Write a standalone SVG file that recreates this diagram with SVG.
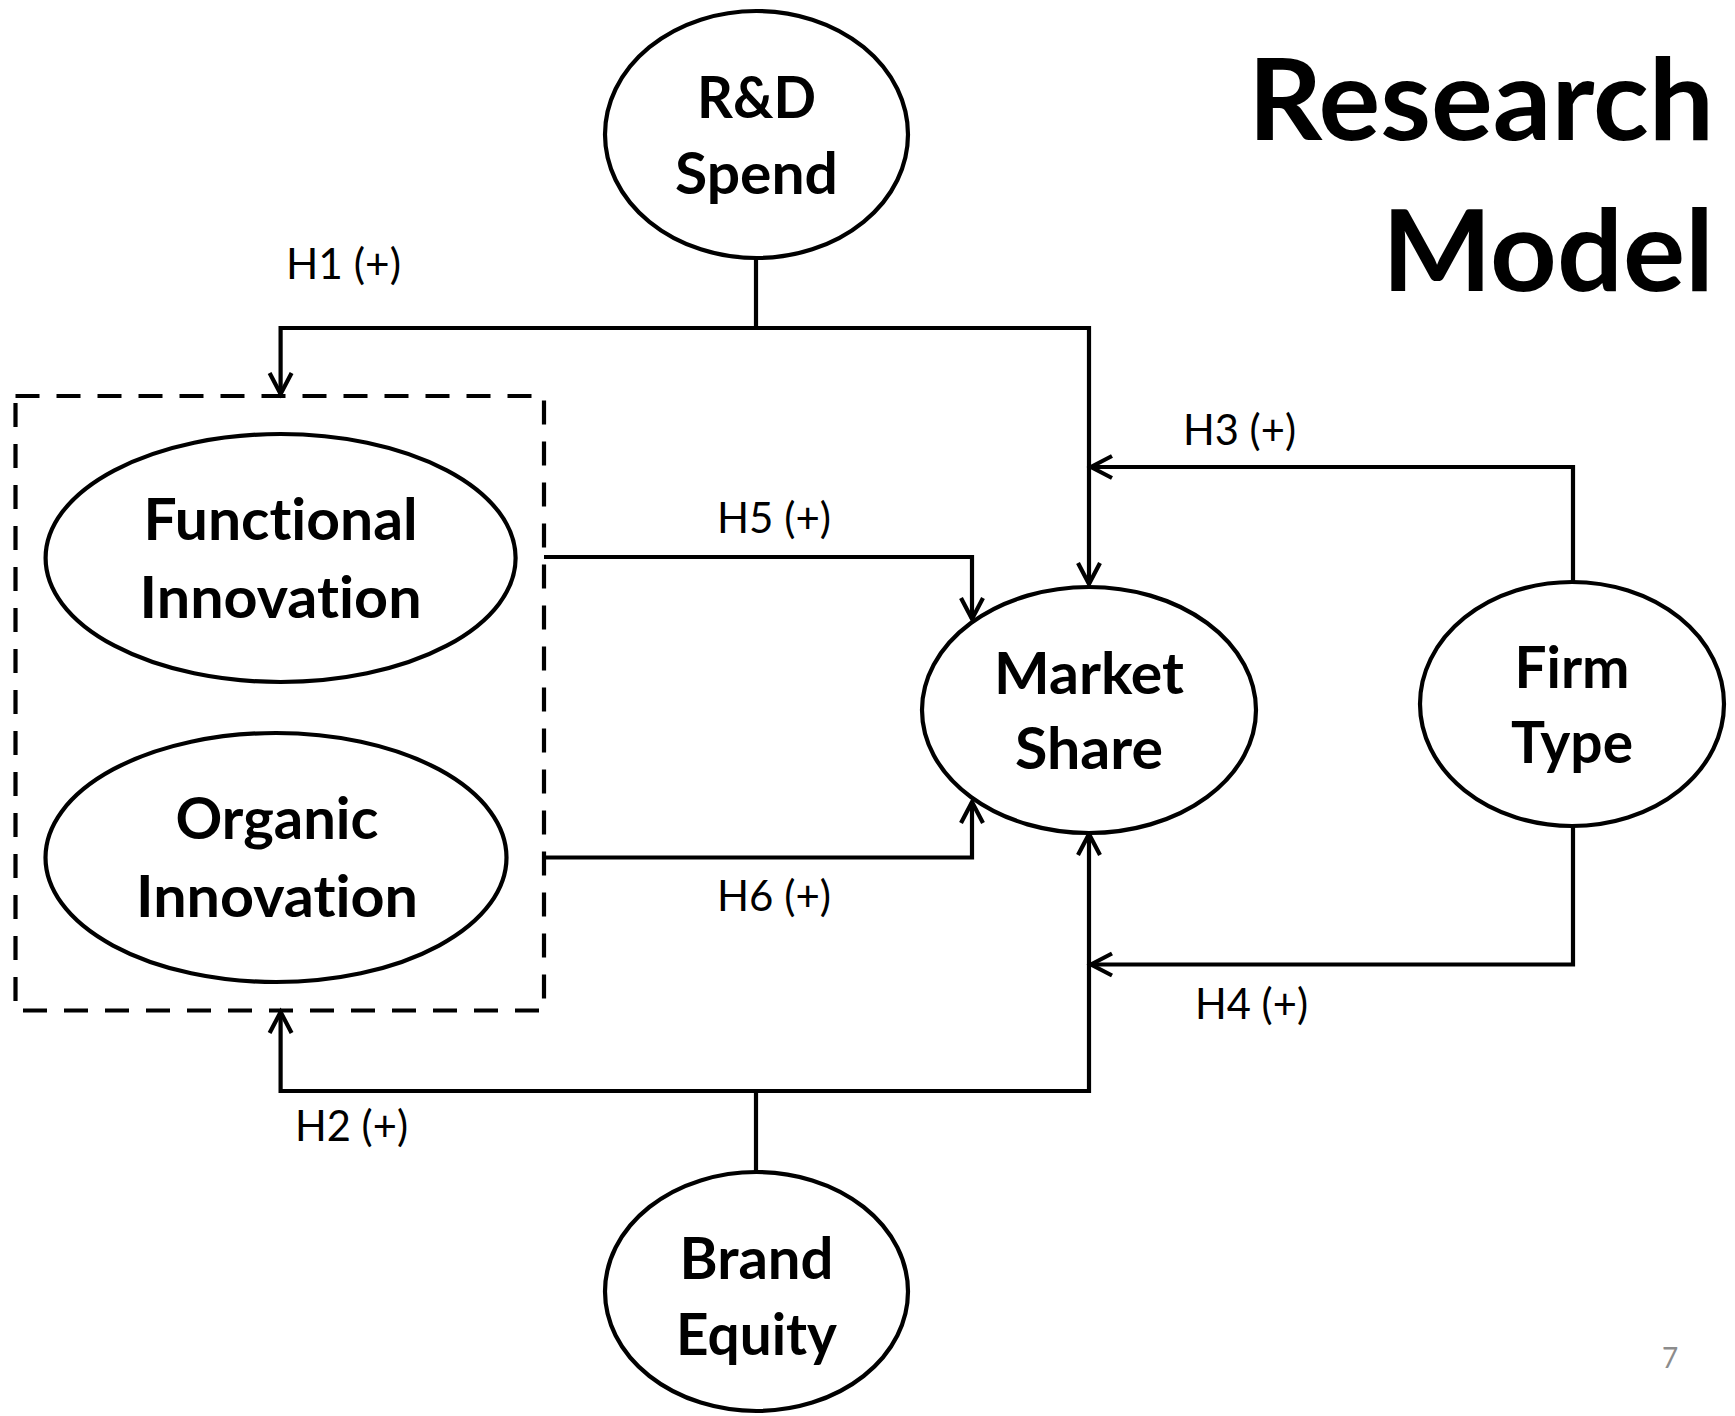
<svg xmlns="http://www.w3.org/2000/svg" width="1735" height="1416" viewBox="0 0 1735 1416">
<style>
text{font-variant-ligatures:none}
.node{fill:#fff;stroke:#000;stroke-width:4.2}
.lbl{font-family:Lato,"Liberation Sans",sans-serif;font-weight:bold;font-size:57px;fill:#000;text-anchor:middle}
.hyp{font-family:Lato,"Liberation Sans",sans-serif;font-size:42px;fill:#000}
.title{font-family:Lato,"Liberation Sans",sans-serif;font-weight:bold;font-size:113px;fill:#000;text-anchor:end}
.conn{fill:none;stroke:#000;stroke-width:4.2;stroke-linejoin:miter}
.dash{fill:none;stroke:#000;stroke-width:4.2;stroke-dasharray:24 17}
</style>
<defs>
<marker id="arr" markerUnits="userSpaceOnUse" markerWidth="40" markerHeight="40" refX="0" refY="0" orient="auto" overflow="visible">
<path d="M-21,-11 L0,0 L-21,11" fill="none" stroke="#000" stroke-width="4.2"/>
</marker>
</defs>
<rect width="1735" height="1416" fill="#fff"/>
<g id="title">
<text class="title" x="1714" y="140" textLength="466" lengthAdjust="spacingAndGlyphs">Research</text>
<text class="title" x="1714" y="291" textLength="332" lengthAdjust="spacingAndGlyphs">Model</text>
</g>
<g id="connectors">
<path class="conn" d="M756,258 V328"/>
<path class="conn" d="M756,328 H280.6 V394" marker-end="url(#arr)"/>
<path class="conn" d="M756,328 H1089 V584" marker-end="url(#arr)"/>
<path class="conn" d="M1573,582 V467 H1091" marker-end="url(#arr)"/>
<path class="conn" d="M1573,826 V964.5 H1091" marker-end="url(#arr)"/>
<path class="conn" d="M544,557 H972 V619" marker-end="url(#arr)"/>
<path class="conn" d="M544,857.5 H972 V802" marker-end="url(#arr)"/>
<path class="conn" d="M756,1172 V1091"/>
<path class="conn" d="M756,1091 H280.6 V1012" marker-end="url(#arr)"/>
<path class="conn" d="M756,1091 H1089 V834" marker-end="url(#arr)"/>
<text class="hyp" x="286" y="279" textLength="115" lengthAdjust="spacingAndGlyphs">H1 (+)</text>
<text class="hyp" x="295" y="1141" textLength="113" lengthAdjust="spacingAndGlyphs">H2 (+)</text>
<text class="hyp" x="1183" y="445" textLength="113" lengthAdjust="spacingAndGlyphs">H3 (+)</text>
<text class="hyp" x="1195" y="1019" textLength="113" lengthAdjust="spacingAndGlyphs">H4 (+)</text>
<text class="hyp" x="717" y="533" textLength="114" lengthAdjust="spacingAndGlyphs">H5 (+)</text>
<text class="hyp" x="717" y="911" textLength="114" lengthAdjust="spacingAndGlyphs">H6 (+)</text>
</g>
<g id="innovation-group">
<rect class="dash" x="15.5" y="396" width="528.5" height="614.5"/>
</g>
<g id="rd-spend">
<ellipse class="node" cx="756.5" cy="134.5" rx="151.5" ry="123.5"/>
<text class="lbl" x="756.5" y="118" textLength="119" lengthAdjust="spacingAndGlyphs">R&amp;D</text>
<text class="lbl" x="756.5" y="194" textLength="163" lengthAdjust="spacingAndGlyphs">Spend</text>
</g>
<g id="functional-innovation">
<ellipse class="node" cx="280.6" cy="558" rx="235" ry="124"/>
<text class="lbl" x="280.6" y="540" textLength="274" lengthAdjust="spacingAndGlyphs">Functional</text>
<text class="lbl" x="280.6" y="618" textLength="282" lengthAdjust="spacingAndGlyphs">Innovation</text>
</g>
<g id="organic-innovation">
<ellipse class="node" cx="276" cy="857.5" rx="230.5" ry="124.5"/>
<text class="lbl" x="277" y="839" textLength="203" lengthAdjust="spacingAndGlyphs">Organic</text>
<text class="lbl" x="277" y="917" textLength="282" lengthAdjust="spacingAndGlyphs">Innovation</text>
</g>
<g id="market-share">
<ellipse class="node" cx="1089" cy="710" rx="167" ry="123"/>
<text class="lbl" x="1089" y="694" textLength="190" lengthAdjust="spacingAndGlyphs">Market</text>
<text class="lbl" x="1089" y="769" textLength="148" lengthAdjust="spacingAndGlyphs">Share</text>
</g>
<g id="firm-type">
<ellipse class="node" cx="1572" cy="704" rx="152" ry="122"/>
<text class="lbl" x="1572" y="688" textLength="115" lengthAdjust="spacingAndGlyphs">Firm</text>
<text class="lbl" x="1572" y="763" textLength="122" lengthAdjust="spacingAndGlyphs">Type</text>
</g>
<g id="brand-equity">
<ellipse class="node" cx="756.5" cy="1291.5" rx="151.5" ry="119.5"/>
<text class="lbl" x="756.5" y="1279" textLength="154" lengthAdjust="spacingAndGlyphs">Brand</text>
<text class="lbl" x="756.5" y="1355" textLength="161" lengthAdjust="spacingAndGlyphs">Equity</text>
</g>
<g id="page-number">
<text x="1662" y="1368" font-family="Lato,'Liberation Sans',sans-serif" font-size="28" fill="#8c8c8c">7</text>
</g>
</svg>
